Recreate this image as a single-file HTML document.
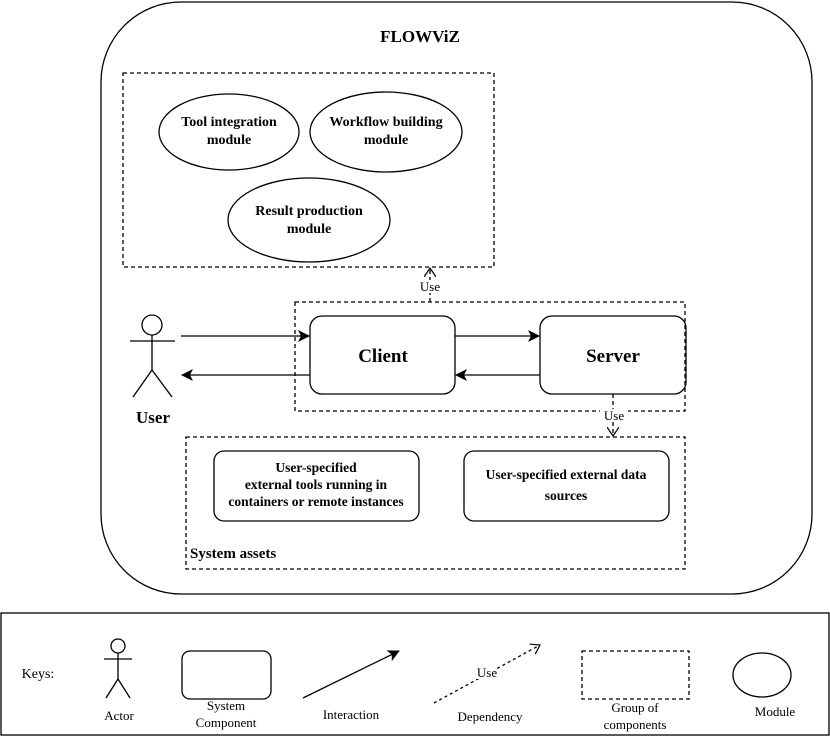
<!DOCTYPE html>
<html><head><meta charset="utf-8"><style>
html,body{margin:0;padding:0;background:#fff}
svg{display:block}
.b{font-family:"Liberation Serif",serif;font-weight:bold}
.n{font-family:"Liberation Serif",serif}
</style></head><body>
<svg width="830" height="741" viewBox="0 0 830 741" xmlns="http://www.w3.org/2000/svg">
<defs>
<marker id="fa" markerWidth="12" markerHeight="12" refX="11" refY="6" orient="auto" markerUnits="userSpaceOnUse"><path d="M0,0 L12,6 L0,12 L3,6 Z" fill="#000"/></marker>
<marker id="oa" markerWidth="10" markerHeight="12" refX="9" refY="6" orient="auto" markerUnits="userSpaceOnUse"><path d="M0,0 L9,6 L0,12" fill="none" stroke="#000" stroke-width="1.2"/></marker>
</defs>
<g fill="none" stroke="#000" stroke-width="1.3">
<rect x="101" y="2" width="711" height="592" rx="80"/>
<rect x="123" y="73" width="371" height="194" stroke-dasharray="4,3"/>
<ellipse cx="229" cy="132" rx="70" ry="38"/>
<ellipse cx="386" cy="132" rx="76" ry="40"/>
<ellipse cx="309" cy="220" rx="81" ry="42"/>
<line x1="430" y1="302" x2="430" y2="268" stroke-dasharray="4,3" marker-end="url(#oa)"/>
<rect x="295" y="302" width="390" height="109" stroke-dasharray="4,3"/>
<rect x="310" y="316" width="145" height="78" rx="12"/>
<rect x="540" y="316" width="146" height="78" rx="12"/>
<line x1="181" y1="336" x2="309" y2="336" marker-end="url(#fa)"/>
<line x1="455" y1="336" x2="539" y2="336" marker-end="url(#fa)"/>
<line x1="540" y1="375" x2="456" y2="375" marker-end="url(#fa)"/>
<line x1="310" y1="375" x2="182" y2="375" marker-end="url(#fa)"/>
<line x1="613" y1="394" x2="613" y2="436" stroke-dasharray="4,3" marker-end="url(#oa)"/>
<rect x="186" y="437" width="499" height="132" stroke-dasharray="4,3"/>
<rect x="214" y="451" width="205" height="70" rx="10"/>
<rect x="464" y="451" width="205" height="70" rx="10"/>
<circle cx="152" cy="325" r="10"/>
<line x1="152" y1="335" x2="152" y2="370"/>
<line x1="130" y1="341" x2="175" y2="341"/>
<line x1="152" y1="370" x2="133" y2="397"/>
<line x1="152" y1="370" x2="172" y2="397"/>
<rect x="1" y="613" width="828" height="122"/>
<circle cx="118" cy="646" r="7"/>
<line x1="118" y1="653" x2="118" y2="679"/>
<line x1="104" y1="659" x2="132" y2="659"/>
<line x1="118" y1="679" x2="106" y2="698"/>
<line x1="118" y1="679" x2="130" y2="698"/>
<rect x="182" y="651" width="89" height="48" rx="8"/>
<line x1="303" y1="698" x2="399" y2="651" marker-end="url(#fa)"/>
<line x1="434" y1="703" x2="540" y2="645" stroke-dasharray="3,3" marker-end="url(#oa)"/>
<rect x="582" y="651" width="107" height="48" stroke-dasharray="4,3"/>
<ellipse cx="762" cy="675" rx="29" ry="22"/>
</g>
<g class="b" font-size="14" text-anchor="middle">
<text x="420" y="42" font-size="17">FLOWViZ</text>
<text x="229" y="126">Tool integration</text><text x="229" y="144">module</text>
<text x="386" y="126">Workflow building</text><text x="386" y="144">module</text>
<text x="309" y="215">Result production</text><text x="309" y="233">module</text>
<text x="383" y="362" font-size="19">Client</text>
<text x="613" y="362" font-size="19">Server</text>
<text x="153" y="423" font-size="17">User</text>
<text x="316" y="472" font-size="13.5">User-specified</text>
<text x="316" y="489" font-size="13.5">external tools running in</text>
<text x="316" y="506" font-size="13.5">containers or remote instances</text>
<text x="566" y="479" font-size="13.5">User-specified external data</text>
<text x="566" y="500" font-size="13.5">sources</text>
<text x="190" y="558" font-size="15" text-anchor="start">System assets</text>
</g>
<g class="n" font-size="13" text-anchor="middle">
<rect x="416" y="280" width="28" height="13" fill="#fff"/>
<text x="430" y="291">Use</text>
<rect x="600" y="409" width="28" height="13" fill="#fff"/>
<text x="614" y="420">Use</text>
<text x="38" y="678" font-size="14">Keys:</text>
<text x="119" y="720">Actor</text>
<text x="226" y="710">System</text>
<text x="226" y="727">Component</text>
<text x="351" y="719">Interaction</text>
<rect x="474" y="666" width="22" height="13" fill="#fff"/>
<text x="487" y="677">Use</text>
<text x="490" y="721">Dependency</text>
<text x="635" y="712">Group of</text>
<text x="635" y="729">components</text>
<text x="775" y="716">Module</text>
</g>
</svg>
</body></html>
